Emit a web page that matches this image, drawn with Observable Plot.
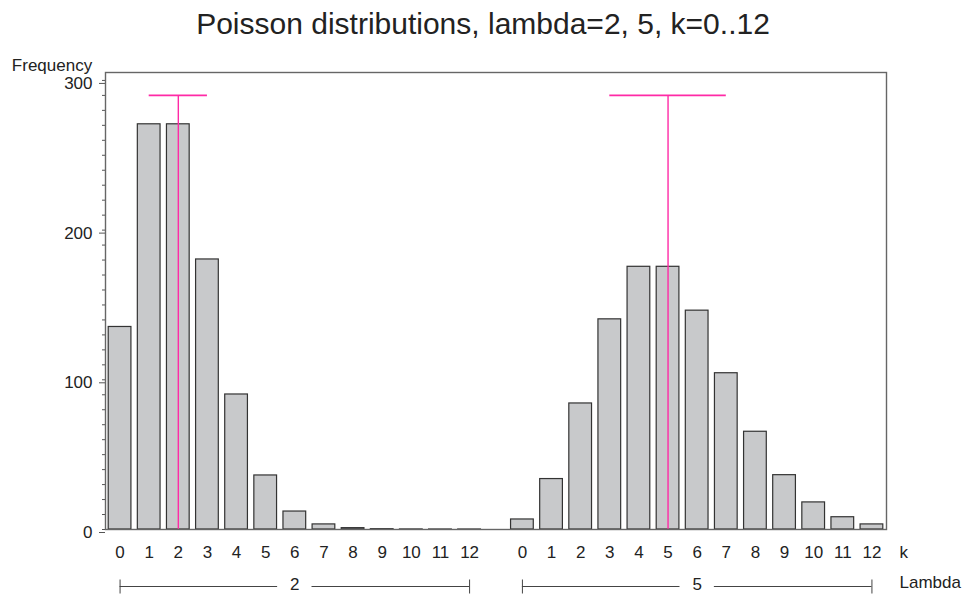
<!DOCTYPE html>
<html>
<head>
<meta charset="utf-8">
<script src="https://cdn.jsdelivr.net/npm/d3@7"></script>
<script src="https://cdn.jsdelivr.net/npm/@observablehq/plot@0.6"></script>
<style>
  html, body { margin: 0; padding: 0; background: #fff; }
  #wrap { position: relative; width: 966px; height: 597px; font-family: "Liberation Sans", Arial, sans-serif; }
  #title { position: absolute; left: 0; top: 9px; width: 966px; text-align: center; font-size: 30px; line-height: 30px; color: #222; }
  #chart { position: absolute; left: 0; top: 0; }
</style>
</head>
<body>
<div id="wrap">
  <div id="chart"></div>
  <div id="title">Poisson distributions, lambda=2, 5, k=0..12</div>
</div>
<script>
// ---- data ----
const kValues = [0, 1, 2, 3, 4, 5, 6, 7, 8, 9, 10, 11, 12];
const lambdas = [2, 5];
const freqLambda2 = [135.3, 270.7, 270.7, 180.4, 90.2, 36.1, 12.0, 3.4, 0.9, 0.2, 0.04, 0.01, 0.002];
const freqLambda5 = [6.7, 33.7, 84.2, 140.4, 175.5, 175.5, 146.2, 104.4, 65.3, 36.3, 18.1, 8.2, 3.4];
const refLow = [1, 3];     // left end of magenta bar (k)
const refHigh = [3, 7];    // right end of magenta bar (k)
const refHeight = 290;     // height of magenta reference bars
const yMajorTicks = [0, 100, 200, 300];
const yMinorTicks = d3.range(0, 301, 10);
const yLabel = "Frequency";
const kLabel = "k";
const groupLabel = "Lambda";

// ---- layout helpers ----
const groupOffset = 13.814;           // slots between group starts
const halfBar = 0.39;
const halfGap = 0.59;
const pos = (g, k) => g * groupOffset + k;

const series = [freqLambda2, freqLambda5];
const bars = [];
lambdas.forEach((lam, g) => kValues.forEach((k, i) => bars.push({lambda: lam, k, freq: series[g][i], p: pos(g, k)})));

const refs = lambdas.map((lam, g) => ({lambda: lam, p: pos(g, lam), lo: pos(g, refLow[g]), hi: pos(g, refHigh[g])}));
const groups = lambdas.map((lam, g) => ({
  lambda: lam,
  start: pos(g, kValues[0]),
  end: pos(g, kValues[kValues.length - 1]),
  mid: (pos(g, kValues[0]) + pos(g, kValues[kValues.length - 1])) / 2
}));
const segments = groups.flatMap(gr => [
  {x1: gr.start, x2: gr.mid - halfGap},
  {x1: gr.mid + halfGap, x2: gr.end}
]);
const ends = groups.flatMap(gr => [gr.start, gr.end]);

const vline = {draw(ctx) { ctx.moveTo(0, -7); ctx.lineTo(0, 7); }};
const hline = {draw(ctx) { ctx.moveTo(-3.5, 0); ctx.lineTo(0, 0); }};

const textColor = "#222";
const fs = 17;

const chart = Plot.plot({
  width: 966,
  height: 597,
  marginLeft: 105,
  marginRight: 80,
  marginTop: 72,
  marginBottom: 68,
  style: {fontFamily: "'Liberation Sans', Arial, sans-serif", fontSize: "17px", color: textColor, background: "white"},
  x: {domain: [-0.5, pos(1, 12) + 0.5], axis: null},
  y: {domain: [0, 305.3], axis: null},
  marks: [
    Plot.dot(yMinorTicks, {y: d => d, frameAnchor: "left", symbol: hline, stroke: "#555", strokeWidth: 1, r: 3}),
    Plot.axisY(yMajorTicks, {tickSize: 6, tickPadding: 7, stroke: "#555", fill: textColor, fontSize: fs, dy: 3, label: null}),
    Plot.rect(bars, {x1: d => d.p - halfBar, x2: d => d.p + halfBar, y1: 0, y2: "freq", fill: "#c8c9cb", stroke: "#333", strokeWidth: 1.2}),
    Plot.ruleX(refs, {x: "p", y1: 0, y2: () => refHeight, stroke: "#ff2aa6", strokeWidth: 1.4}),
    Plot.ruleY(refs, {y: () => refHeight, x1: "lo", x2: "hi", stroke: "#ff2aa6", strokeWidth: 1.6}),
    Plot.frame({stroke: "#666", strokeWidth: 1.4}),
    Plot.text(bars, {x: "p", text: d => String(d.k), frameAnchor: "bottom", dy: 28, fontSize: fs, fill: textColor}),
    Plot.text([kLabel], {frameAnchor: "bottom-right", textAnchor: "start", dx: 13, dy: 28, fontSize: fs, fill: textColor}),
    Plot.ruleY(segments, {x1: "x1", x2: "x2", y: () => 0, dy: 57, stroke: "#444", strokeWidth: 1}),
    Plot.dot(ends, {x: d => d, frameAnchor: "bottom", dy: 57, symbol: vline, stroke: "#444", strokeWidth: 1, r: 3}),
    Plot.text(groups, {x: "mid", text: d => String(d.lambda), frameAnchor: "bottom", dy: 60, fontSize: fs, fill: textColor}),
    Plot.text([groupLabel], {frameAnchor: "bottom-right", textAnchor: "start", dx: 13, dy: 58, fontSize: fs, fill: textColor}),
    Plot.text([yLabel], {frameAnchor: "top-left", textAnchor: "end", dx: -13.3, dy: -14, fontSize: fs, fill: textColor})
  ]
});
document.getElementById("chart").appendChild(chart);
</script>
</body>
</html>
